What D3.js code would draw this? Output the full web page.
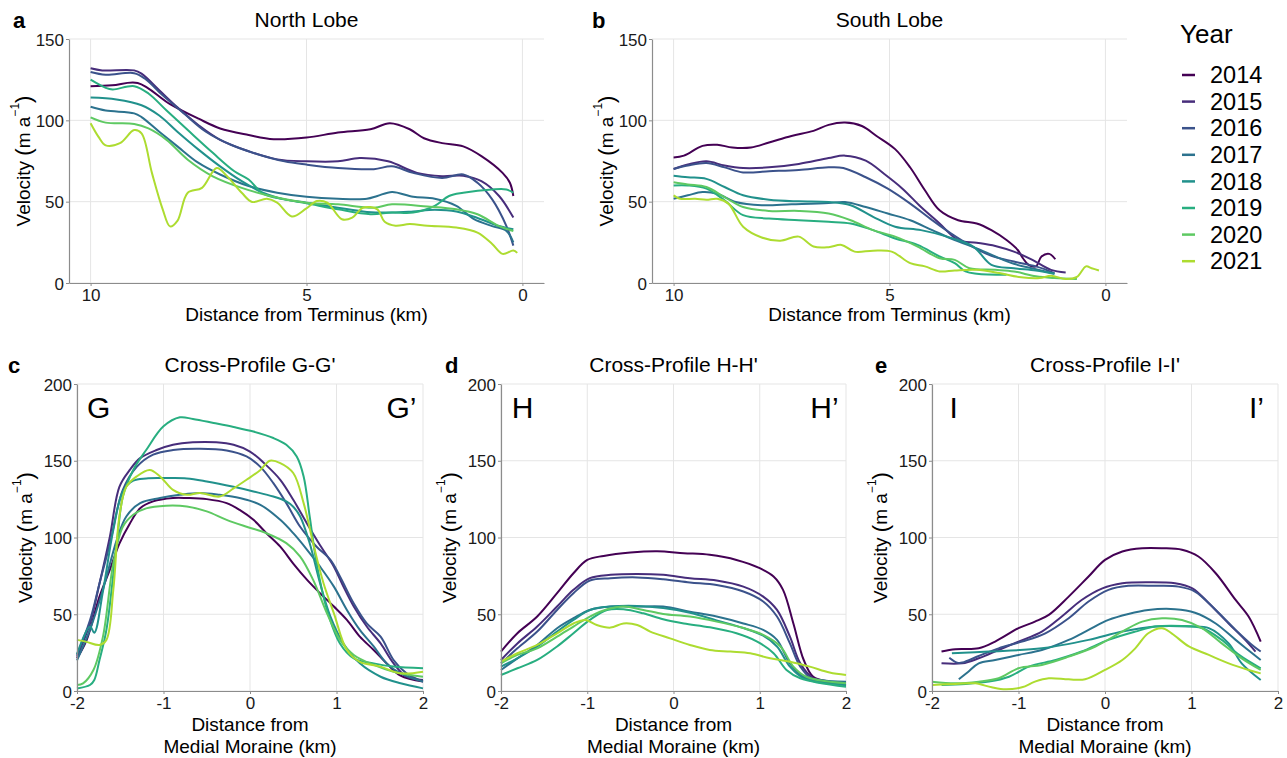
<!DOCTYPE html>
<html>
<head>
<meta charset="utf-8">
<script src="https://cdn.jsdelivr.net/npm/d3@7"></script>
<style>
  body { margin: 0; background: #fff; }
  svg { font-family: "Liberation Sans", Arial, sans-serif; }
</style>
</head>
<body>
<svg id="chart" width="1287" height="758"></svg>
<script>
// years shown in the legend, one series per year in every panel
const years = [2014, 2015, 2016, 2017, 2018, 2019, 2020, 2021];

// tick labels
const lobeXTicks = [10, 5, 0];
const lobeYTicks = [0, 50, 100, 150];
const profileXTicks = [-2, -1, 0, 1, 2];
const profileYTicks = [0, 50, 100, 150, 200];

// a: North Lobe, [distance from terminus (km), velocity (m/a)], 2014..2021
const northLobe = [
  [[10,121],[9.5,121.5],[8.91,123],[8.16,110],[7.5,101],[7.0,95],[6.34,91],[5.76,88.4],[5.0,89.4],[4.27,92.5],[3.52,94.5],[3.07,98.2],[2.61,94.5],[2.28,89],[1.86,86],[1.37,84],[0.95,78],[0.46,67.7],[0.29,61.6],[0.21,53.5]],
  [[10,132],[9.73,130.7],[8.99,130.7],[8.82,128.7],[8.41,118.5],[7.99,108],[7.5,97],[7.0,88],[6.34,81],[5.68,76],[5.0,74.8],[4.27,74.8],[3.77,76.8],[3.11,74.8],[2.44,67.7],[1.86,65.7],[1.37,66],[0.95,62.6],[0.54,53.5],[0.21,40.2]],
  [[10,129.7],[9.65,128],[8.99,129],[8.74,125.6],[8.33,115.4],[7.83,104],[7.33,93],[6.75,85],[6.17,79.5],[5.51,74.8],[5.0,72.8],[4.27,70.7],[3.44,70],[3.02,71.7],[2.53,67.7],[1.86,64.6],[1.37,66.7],[1.04,61.6],[0.70,51.4],[0.37,35],[0.21,23]],
  [[10,108.3],[9.65,106],[8.99,104.3],[8.82,102],[8.41,93],[7.99,84],[7.5,73.8],[7.0,66.7],[6.34,59.6],[5.68,55.5],[5.0,53],[4.27,51.8],[3.6,51.8],[3.36,53.5],[3.02,56],[2.53,53],[2.03,51.8],[1.53,47.4],[1.12,39.2],[0.7,35],[0.37,32],[0.21,25]],
  [[10,114],[9.40,112.8],[8.82,109.3],[8.41,103],[7.99,93],[7.5,82],[7.0,71.7],[6.5,62.6],[6.01,55.5],[5.51,51.4],[5.0,49.4],[4.27,46.3],[3.6,43.7],[3.02,43.3],[2.53,44],[2.03,45],[1.53,44],[1.04,40],[0.54,35],[0.21,33]],
  [[10,125],[9.65,120],[9.49,119],[8.99,121],[8.66,116.5],[8.24,106],[7.75,94],[7.17,80],[6.67,68.7],[6.34,63.6],[6.01,55],[5.51,51.4],[5.0,49],[4.27,45.3],[3.52,42.3],[3.02,43.3],[2.53,43.3],[2.03,47.4],[1.70,53.5],[1.37,55.5],[0.70,57.5],[0.37,57.5],[0.21,55.5]],
  [[10,101.8],[9.65,98.6],[8.99,97.8],[8.66,95],[8.24,88],[7.75,75.8],[7.17,65.6],[6.5,58.5],[5.84,53.5],[5.01,49.4],[4.27,48.4],[3.44,46.3],[3.02,48.4],[2.2,47],[1.53,45.3],[1.04,42.3],[0.54,35],[0.21,32]],
  [[10,98.2],[9.82,90],[9.65,84.6],[9.32,86],[8.99,94],[8.82,92],[8.58,67.7],[8.33,45.3],[8.16,34.8],[7.99,38.2],[7.75,55.5],[7.42,58.5],[7.08,70.7],[6.84,65.6],[6.5,55.5],[6.26,49.8],[5.92,51.8],[5.68,49.4],[5.34,40.9],[5.01,45.7],[4.76,50.4],[4.52,49.4],[4.18,39.2],[3.94,40.2],[3.69,46.3],[3.36,45.3],[3.19,37.6],[2.94,35.2],[2.61,36.2],[2.2,35.2],[1.53,34.1],[1.04,31],[0.70,24],[0.46,17.9],[0.21,20],[0.12,18.5]]
];

// b: South Lobe
const southLobe = [
  [[10,77.2],[9.76,78.3],[9.33,84.3],[8.99,85],[8.64,83.3],[8.21,83.3],[7.79,86.4],[7.27,90.4],[6.76,93.5],[6.41,97.2],[6.03,98.6],[5.64,96.5],[5.30,90.4],[4.87,82.3],[4.52,71],[4.18,57],[3.84,44.7],[3.41,38.6],[2.98,36.6],[2.64,32.5],[2.29,26.4],[2.03,20.3],[1.91,15.2],[1.78,11.2],[1.61,10.2],[1.48,16.3],[1.30,17.9],[1.16,14.6]],
  [[10,70.1],[9.67,72.8],[9.24,74.8],[8.82,72.2],[8.39,70.7],[7.79,71.1],[7.10,73.2],[6.41,76.8],[6.03,78.3],[5.55,75.2],[5.12,67],[4.70,58],[4.27,46.7],[3.84,36.6],[3.41,26.4],[2.98,24.8],[2.55,22.8],[2.12,19.3],[1.69,14.2],[1.26,8.1],[0.92,6.5]],
  [[10,70.1],[9.67,72.2],[9.24,73.8],[8.82,71.1],[8.39,68],[7.79,68.7],[7.10,69.5],[6.41,71.1],[6.07,70.7],[5.55,65],[5.04,58],[4.52,48.8],[4.01,38.6],[3.58,30.5],[3.15,23.4],[2.64,16.7],[2.12,13.2],[1.61,10.2],[1.18,6.1]],
  [[10,51.8],[9.67,53.9],[9.33,55.9],[8.99,54.9],[8.56,49.8],[7.96,47.8],[7.27,48.4],[6.41,49.2],[6.03,49.8],[5.55,46.7],[5.04,42.7],[4.52,38.6],[4.01,32.5],[3.49,26.4],[2.98,21.3],[2.55,16.3],[2.12,11.8],[1.61,8.5],[1.18,5.7]],
  [[10,66],[9.67,65],[9.24,64],[8.82,59],[8.39,53.9],[7.79,51.2],[7.10,50.2],[6.41,49.8],[5.90,47.8],[5.38,40.7],[4.87,34.6],[4.27,32.5],[3.67,28.5],[3.06,22.4],[2.64,11.2],[2.12,9.1],[1.61,7.7],[1.18,5.7]],
  [[10,60],[9.67,60],[9.24,58],[8.82,50.8],[8.39,41.7],[7.79,39.6],[7.10,38.6],[6.41,37.6],[5.90,36.6],[5.38,32.5],[4.87,27.4],[4.35,23.4],[3.84,16.3],[3.49,12.2],[3.24,7.1],[2.98,5.7],[2.29,5.1]],
  [[10,62],[9.67,60.6],[9.24,59],[8.82,52.8],[8.39,46.7],[7.79,44.3],[7.10,44.3],[6.41,42.7],[5.90,38.6],[5.38,32.5],[4.87,28.5],[4.35,22.4],[3.84,15.2],[3.49,14.2],[3.15,9.1],[2.55,8.1],[2.12,7.1],[1.61,4.1],[1.18,3],[0.66,2.4]],
  [[10,53.9],[9.85,51.8],[9.50,51.8],[9.24,51.2],[8.99,51.8],[8.73,48.8],[8.39,34.6],[7.96,28],[7.53,26],[7.10,28.5],[6.76,22.4],[6.41,22],[6.11,23.4],[5.81,19.3],[5.38,19.9],[4.95,19.3],[4.52,12.2],[4.18,10.2],[3.84,7.1],[3.49,7.7],[2.98,8.1],[2.46,6.1],[1.95,3.5],[1.52,3],[1.26,4.5],[0.92,2.4],[0.66,3.7],[0.45,10.2],[0.32,9.1],[0.15,7.7]]
];

// c: Cross-Profile G-G', [distance from medial moraine (km), velocity]
const profileG = [
  [[-2,21.3],[-1.89,33],[-1.74,61.5],[-1.62,79],[-1.51,96],[-1.39,109],[-1.27,119],[-1.12,123.5],[-0.89,125.7],[-0.73,125.7],[-0.5,125],[-0.27,122.4],[-0.12,118],[0.04,111.5],[0.19,102.8],[0.35,94],[0.5,83],[0.66,72.4],[0.81,63.7],[0.97,55],[1.12,46.3],[1.27,35.4],[1.43,26.7],[1.58,18],[1.74,10],[2,6.1]],
  [[-2,22.4],[-1.85,44],[-1.74,70],[-1.62,100.6],[-1.51,133],[-1.39,144],[-1.27,151.7],[-1.08,157],[-0.89,160.4],[-0.66,162],[-0.39,162],[-0.19,160.4],[0,156],[0.19,147],[0.35,137.6],[0.5,124.6],[0.66,109],[0.81,95],[0.97,81],[1.08,68],[1.2,55],[1.35,42],[1.51,31],[1.66,18],[1.81,9.3],[2,7.2]],
  [[-2,23.5],[-1.85,46],[-1.74,70],[-1.62,96],[-1.47,131],[-1.31,146],[-1.12,154],[-0.89,157],[-0.58,157.8],[-0.27,156.7],[-0.04,152.8],[0.12,146],[0.27,135.4],[0.42,122.4],[0.58,107],[0.77,94],[0.93,85.4],[1.04,74.6],[1.2,57],[1.35,44],[1.51,35.4],[1.66,20.2],[1.81,11.5],[2,6.1]],
  [[-2,20],[-1.85,40],[-1.7,66],[-1.54,98.5],[-1.43,113.7],[-1.27,122.4],[-1.04,125.7],[-0.81,127.8],[-0.58,129],[-0.35,127.8],[-0.12,125.7],[0.12,121.3],[0.35,111.5],[0.5,102.8],[0.66,92],[0.81,81],[0.97,68],[1.12,52.8],[1.27,39.8],[1.43,29],[1.58,18],[1.74,11.5],[2,6.1]],
  [[-2,24],[-1.85,42],[-1.8,38],[-1.7,65],[-1.58,105],[-1.47,130],[-1.35,137],[-1.2,138.5],[-0.97,138.7],[-0.73,138.5],[-0.5,136.5],[-0.19,133],[0.04,130],[0.27,126.7],[0.42,123.5],[0.5,120],[0.58,113.7],[0.69,96.3],[0.81,70.2],[0.93,48.5],[1.08,31],[1.27,18],[1.51,9.3],[1.74,5],[2,1.7]],
  [[-2,1.7],[-1.85,3.9],[-1.8,7.2],[-1.74,20.2],[-1.66,39.8],[-1.54,96.3],[-1.47,126.7],[-1.35,144],[-1.2,157],[-1.0,172.4],[-0.81,178.3],[-0.66,177.2],[-0.42,174.6],[-0.19,172],[0.04,169],[0.27,164.8],[0.42,160.4],[0.54,152.8],[0.62,139.8],[0.69,113.7],[0.77,83.3],[0.89,52.8],[1.04,31],[1.2,21.3],[1.43,18],[1.66,15.9],[2,14.8]],
  [[-2,3.9],[-1.93,5],[-1.81,13.7],[-1.7,35.4],[-1.58,83.3],[-1.47,107],[-1.35,114.8],[-1.2,119],[-0.97,120.7],[-0.73,120.2],[-0.5,117],[-0.27,111.5],[-0.04,107],[0.19,102.8],[0.42,96.3],[0.58,87.6],[0.73,72.4],[0.89,50.6],[1.04,33.3],[1.2,23.5],[1.43,17],[1.66,12.6],[2,9.3]],
  [[-2,33.3],[-1.89,32],[-1.74,30],[-1.66,33.3],[-1.58,66],[-1.51,113.7],[-1.43,133],[-1.31,139.8],[-1.16,144],[-1.04,139.8],[-0.89,131],[-0.73,127.8],[-0.58,129],[-0.35,126.7],[-0.19,132],[-0.04,137.6],[0.12,144],[0.23,150],[0.35,148.5],[0.5,142],[0.62,122.4],[0.73,96.3],[0.85,70.2],[0.97,50.6],[1.12,26.7],[1.27,19],[1.51,15.9],[1.74,11.5],[2,12.6]]
];

// d: Cross-Profile H-H'
const profileH = [
  [[-2,25.7],[-1.81,37.6],[-1.58,48.5],[-1.35,63.7],[-1.16,76.7],[-1.0,85.4],[-0.81,88],[-0.5,90.2],[-0.19,91],[0.12,89.8],[0.42,88.7],[0.73,85.4],[1.0,80],[1.16,74.6],[1.27,65.9],[1.39,44],[1.51,20.2],[1.62,9.3],[1.81,6.1],[2,5]],
  [[-2,20.2],[-1.81,31],[-1.58,42],[-1.35,55],[-1.16,65.9],[-0.97,73.5],[-0.73,75.7],[-0.42,76.3],[-0.12,75.7],[0.19,73.5],[0.5,72],[0.81,68],[1.04,61.5],[1.2,52.8],[1.35,35.4],[1.47,18],[1.62,8.3],[2,3.9]],
  [[-2,18],[-1.81,27.8],[-1.58,38.7],[-1.35,52.8],[-1.16,63.7],[-0.97,72],[-0.73,73.5],[-0.42,74],[-0.12,72.8],[0.19,70.7],[0.5,69],[0.81,64.8],[1.04,58.3],[1.2,48.5],[1.35,31],[1.47,15.9],[1.62,7.2],[2,5]],
  [[-2,13.7],[-1.81,21.3],[-1.58,30],[-1.35,40.9],[-1.16,47.4],[-0.97,52.8],[-0.73,55],[-0.42,55],[-0.12,55],[0.19,51.7],[0.5,48.5],[0.81,44],[1.04,39.8],[1.2,33.3],[1.35,18],[1.51,9.3],[2,6.1]],
  [[-2,15.9],[-1.81,21.3],[-1.58,29],[-1.35,38.7],[-1.16,46.3],[-0.97,52.8],[-0.73,55],[-0.42,55.4],[-0.12,54],[0.19,51],[0.5,46],[0.81,41],[1.04,36],[1.2,29],[1.35,15.9],[1.51,8.3],[2,3.9]],
  [[-2,10.4],[-1.81,14.8],[-1.58,20.2],[-1.35,29],[-1.16,37.6],[-0.97,46.3],[-0.77,52.8],[-0.58,53.3],[-0.35,50.6],[-0.12,46.7],[0.12,44],[0.42,41.5],[0.73,37.6],[0.97,32.2],[1.16,24.6],[1.31,13.7],[1.47,8.3],[2,2.8]],
  [[-2,18],[-1.81,23.5],[-1.58,27.8],[-1.35,35.4],[-1.16,42],[-0.97,48.5],[-0.77,53.3],[-0.58,55],[-0.35,52.8],[-0.12,50.2],[0.19,48.5],[0.5,45.2],[0.81,41],[1.04,36.5],[1.24,29],[1.39,15.9],[1.54,9.3],[2,5]],
  [[-2,19.1],[-1.81,24.6],[-1.58,30],[-1.35,37.6],[-1.16,44],[-1.02,46.3],[-0.89,43],[-0.73,41.3],[-0.58,44],[-0.42,43],[-0.27,38.7],[-0.04,34.3],[0.19,30],[0.42,26.7],[0.66,25.7],[0.89,24.6],[1.12,21.3],[1.35,19.1],[1.58,15.9],[1.81,12],[2,10.4]]
];

// e: Cross-Profile I-I'
const profileI = [
  [[-1.89,25.7],[-1.73,27.2],[-1.46,27.8],[-1.27,32.2],[-1.0,40.9],[-0.81,45.2],[-0.65,49.6],[-0.42,61.5],[-0.19,74.6],[0.0,85.4],[0.2,90.9],[0.43,93],[0.66,93],[0.89,92],[1.08,87.6],[1.28,76.7],[1.51,59.3],[1.66,48.5],[1.8,32.2]],
  [[-1.89,18],[-1.65,18],[-1.46,21.3],[-1.23,26.7],[-1.0,32.2],[-0.73,38.7],[-0.5,48.5],[-0.27,59.3],[-0.03,66.9],[0.2,70.2],[0.5,70.9],[0.81,70.2],[1.01,66.9],[1.2,57.2],[1.43,44],[1.62,33.3],[1.74,25.7]],
  [[-1.80,21.7],[-1.71,18.5],[-1.65,18.5],[-1.46,22.8],[-1.23,27.8],[-0.96,32.2],[-0.69,37.6],[-0.42,47.4],[-0.19,58.3],[0.04,65.9],[0.27,68.5],[0.58,68.5],[0.85,68],[1.04,64.8],[1.28,52.8],[1.51,39.8],[1.70,30],[1.8,25.7]],
  [[-1.69,7.6],[-1.58,12.6],[-1.46,18],[-1.27,20.2],[-1.0,23.5],[-0.73,26.7],[-0.42,33.3],[-0.19,39.8],[0.04,46.3],[0.27,50.2],[0.5,52.8],[0.81,53.3],[1.04,51],[1.28,44],[1.51,33.3],[1.8,20.2]],
  [[-1.77,24.6],[-1.34,25.7],[-0.73,27.8],[-0.19,33.3],[0.2,38.7],[0.58,42],[0.97,42],[1.2,41],[1.43,31],[1.58,18],[1.8,7.2]],
  [[-1.89,3.9],[-1.61,4.6],[-1.34,6.1],[-1.11,9.3],[-0.88,15.9],[-0.57,20.2],[-0.27,25.7],[0.04,33.3],[0.35,38.7],[0.58,42],[0.89,42.4],[1.12,41],[1.35,33.3],[1.55,23.5],[1.8,14.8]],
  [[-2,6.1],[-1.73,5],[-1.46,6.1],[-1.23,8.3],[-1.0,14.8],[-0.73,17],[-0.42,22.4],[-0.11,29],[0.2,38.7],[0.43,45.2],[0.66,47.4],[0.89,46.3],[1.12,41],[1.35,31],[1.58,21.3],[1.8,13.7]],
  [[-2,3.9],[-1.73,4.6],[-1.5,5],[-1.31,2.4],[-1.15,1.1],[-0.96,2.4],[-0.81,6.1],[-0.65,8.3],[-0.42,7.6],[-0.23,7.6],[0.0,13.7],[0.2,20.2],[0.35,27.8],[0.5,37.6],[0.66,40.9],[0.77,37.6],[0.97,29],[1.2,23.5],[1.43,18],[1.66,13.7],[1.8,11.5]]
];

const colour = d3.scaleOrdinal()
  .domain(years)
  .range(years.map((y, i) => d3.interpolateViridis(i / 8)));

const svg = d3.select("#chart");

// panel layout
const panels = [
  { letter: "a", letterX: 13, title: "North Lobe", series: northLobe, left: 69, right: 544, top: 39, bottom: 283,
    xDomain: [10.5, -0.5], yMax: 150, xTicks: lobeXTicks, yTicks: lobeYTicks, xTitle: ["Distance from Terminus (km)"], ends: null },
  { letter: "b", letterX: 592, title: "South Lobe", series: southLobe, left: 652, right: 1127, top: 39, bottom: 283,
    xDomain: [10.5, -0.5], yMax: 150, xTicks: lobeXTicks, yTicks: lobeYTicks, xTitle: ["Distance from Terminus (km)"], ends: null },
  { letter: "c", letterX: 8, title: "Cross-Profile G-G'", series: profileG, left: 77, right: 423, top: 384, bottom: 691,
    xDomain: [-2, 2], yMax: 200, xTicks: profileXTicks, yTicks: profileYTicks, xTitle: ["Distance from", "Medial Moraine (km)"], ends: ["G", "G\u2019"] },
  { letter: "d", letterX: 445, title: "Cross-Profile H-H'", series: profileH, left: 501, right: 846, top: 384, bottom: 691,
    xDomain: [-2, 2], yMax: 200, xTicks: profileXTicks, yTicks: profileYTicks, xTitle: ["Distance from", "Medial Moraine (km)"], ends: ["H", "H\u2019"] },
  { letter: "e", letterX: 875, title: "Cross-Profile I-I'", series: profileI, left: 932, right: 1278, top: 384, bottom: 691,
    xDomain: [-2, 2], yMax: 200, xTicks: profileXTicks, yTicks: profileYTicks, xTitle: ["Distance from", "Medial Moraine (km)"], ends: ["I", "I\u2019"] }
];

panels.forEach(p => {
  const g = svg.append("g");
  const x = d3.scaleLinear().domain(p.xDomain).range([p.left, p.right]);
  const y = d3.scaleLinear().domain([0, p.yMax]).range([p.bottom, p.top]);

  // grid
  g.selectAll(".vgrid").data(p.xTicks).join("line")
    .attr("x1", d => x(d)).attr("x2", d => x(d))
    .attr("y1", p.top).attr("y2", p.bottom)
    .attr("stroke", "#e5e5e5").attr("stroke-width", 1);
  g.selectAll(".hgrid").data(p.yTicks).join("line")
    .attr("x1", p.left).attr("x2", p.right)
    .attr("y1", d => y(d)).attr("y2", d => y(d))
    .attr("stroke", "#e5e5e5").attr("stroke-width", 1);

  // lines
  const line = d3.line()
    .x(d => x(d[0]))
    .y(d => y(d[1]))
    .curve(d3.curveCatmullRom.alpha(0.5));
  g.selectAll(".series").data(p.series).join("path")
    .attr("fill", "none")
    .attr("stroke", (d, i) => colour(years[i]))
    .attr("stroke-width", 2)
    .attr("d", line);

  // axes
  const xAxis = g.append("g")
    .attr("transform", `translate(0,${p.bottom})`)
    .call(d3.axisBottom(x).tickValues(p.xTicks).tickSize(3).tickSizeOuter(0).tickPadding(2).tickFormat(d => String(d)));
  const yAxis = g.append("g")
    .attr("transform", `translate(${p.left},0)`)
    .call(d3.axisLeft(y).tickValues(p.yTicks).tickSize(3).tickSizeOuter(0).tickPadding(2).tickFormat(d => String(d)));
  [xAxis, yAxis].forEach(a => {
    a.attr("font-family", null).attr("font-size", null);
    a.select(".domain").attr("stroke", "#8c8c8c").attr("stroke-width", 1.2);
    a.selectAll(".tick line").attr("stroke", "#8c8c8c");
    a.selectAll(".tick text").attr("fill", "#1a1a1a").style("font-size", "17px");
  });
  xAxis.selectAll(".tick text").attr("dy", "0.75em");
  yAxis.selectAll(".tick text").attr("dy", "0.36em");

  // panel letter and title
  const titleY = p.top - 12;
  g.append("text")
    .attr("x", p.letterX).attr("y", titleY + 1)
    .attr("font-weight", "bold").attr("font-size", 22)
    .text(p.letter);
  g.append("text")
    .attr("x", (p.left + p.right) / 2).attr("y", titleY)
    .attr("text-anchor", "middle").attr("font-size", 21)
    .text(p.title);

  // y title
  const yt = g.append("text")
    .attr("transform", `translate(${p.left - (p.yMax === 150 ? 46 : 52)},${(p.top + p.bottom) / 2}) rotate(-90)`)
    .attr("text-anchor", "middle").attr("dominant-baseline", "central")
    .attr("font-size", 19);
  yt.append("tspan").text("Velocity ");
  yt.append("tspan").attr("font-size", 22).text("(");
  yt.append("tspan").text("m a");
  yt.append("tspan").attr("font-size", 12).attr("dy", -8).text("\u22121");
  yt.append("tspan").attr("font-size", 22).attr("dy", 8).text(")");

  // x title
  const titleBase = p.xTitle.length > 1 ? p.bottom + 40 : p.bottom + 38;
  p.xTitle.forEach((t, i) => {
    g.append("text")
      .attr("x", (p.left + p.right) / 2)
      .attr("y", titleBase + i * 22)
      .attr("text-anchor", "middle").attr("font-size", 19)
      .text(t);
  });

  // profile end labels
  if (p.ends) {
    g.append("text")
      .attr("x", x(-1.75)).attr("y", y(185))
      .attr("text-anchor", "middle").attr("dominant-baseline", "central")
      .attr("font-size", 30).text(p.ends[0]);
    g.append("text")
      .attr("x", x(1.75)).attr("y", y(185))
      .attr("text-anchor", "middle").attr("dominant-baseline", "central")
      .attr("font-size", 30).text(p.ends[1]);
  }
});

// legend
const legend = svg.append("g").attr("transform", "translate(1180,0)");
legend.append("text").attr("x", 0).attr("y", 43).attr("font-size", 26).text("Year");
const item = legend.selectAll(".item").data(years).join("g")
  .attr("transform", (d, i) => `translate(0,${75 + i * 26.6})`);
item.append("line")
  .attr("x1", 2).attr("x2", 15)
  .attr("stroke", d => colour(d)).attr("stroke-width", 2.5);
item.append("text")
  .attr("x", 30).attr("dy", "0.35em").attr("font-size", 23.5)
  .text(d => d);
</script>
</body>
</html>
